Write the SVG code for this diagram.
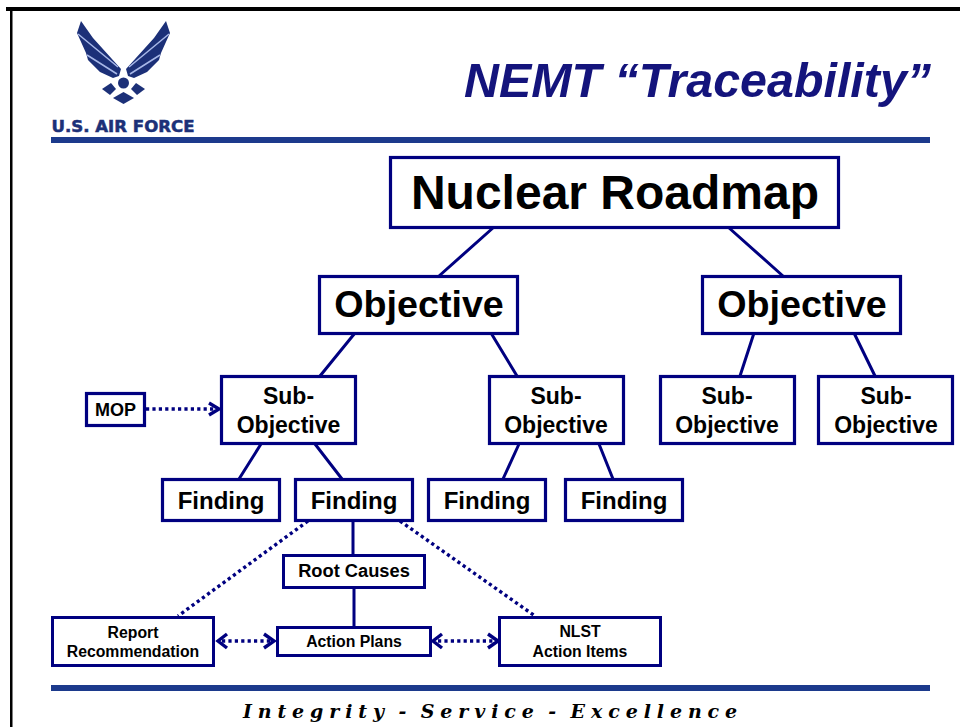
<svg xmlns="http://www.w3.org/2000/svg" width="960" height="727" viewBox="0 0 960 727">
<style>
text{font-family:"Liberation Sans",Arial,sans-serif;font-weight:bold;fill:#000;text-anchor:middle}
.box{fill:#fff;stroke:#000080;stroke-width:3.200}
.thin{fill:#fff;stroke:#000080;stroke-width:3}
.line{fill:none;stroke:#000080;stroke-width:3}
.dot{fill:none;stroke:#000080;stroke-width:3.400;stroke-dasharray:3.200 3.200}
.head{fill:none;stroke:#000080;stroke-width:3.400}
.rule{fill:#1c3a8c}
.logo{fill:#1c3078}
.feather{fill:none;stroke:#a8b8e8;stroke-width:1.500}
</style>
<rect width="960" height="727" fill="#fff"/>
<g id="frame"><rect x="6" y="7" width="954" height="4" fill="#000"/><rect x="10" y="8" width="2.500" height="719" fill="#000"/></g>
<g id="logo">
<path id="wing" class="logo" d="M81 21L93 38L121 69L119 76L113 78L100 72L88 60L86 53L77 33Z"/>
<path class="logo" d="M166 21L154 38L126 69L128 76L134 78L147 72L159 60L161 53L170 33Z"/>
<path class="feather" d="M78 34L118 67M87 55L117 74M169 34L129 67M160 55L130 74"/>
<circle class="logo" cx="123.500" cy="83" r="5.500"/>
<path class="logo" d="M102 89L111 83L116 89L110 95Z"/><path class="logo" d="M145 89L136 83L131 89L137 95Z"/>
<path class="logo" d="M123.500 92L134 98L123.500 104L113 98Z"/>
<text x="123" y="132" style="font-family:'DejaVu Sans',sans-serif;font-size:15px;font-weight:bold;fill:#1c3078;stroke:#1c3078;stroke-width:0.500" textLength="143" lengthAdjust="spacingAndGlyphs">U.S. AIR FORCE</text>
</g>
<text id="title" x="697.500" y="97" style="font-size:48.400px;font-style:italic;fill:#14147c">NEMT “Traceability”</text>
<rect class="rule" x="51" y="137" width="879" height="6"/>
<rect class="rule" x="51" y="685" width="879" height="6"/>
<g id="connectors">
<path class="line" d="M494 227L439 276M728 227L783 276M355 333L320 376M491 333L517 376M754 333L740 376M854 333L875 376M261 444L239 479M315 444L342 479M519 444L503 479M599 444L613 479M353 520V555M354 587V627"/>
<path class="dot" d="M146 409H216M308 521L178 616M400 521L535 616M222 641H270M438 641H494"/>
<path class="head" d="M209 403L219 409L209 415M227 634L218 641L227 648M264 634L274 641L264 648M442 634L433 641L442 648M488 634L498 641L488 648"/>
</g>
<g id="n-roadmap"><rect class="box" x="390.500" y="157.500" width="448" height="70"/><text x="615" y="209" font-size="48">Nuclear Roadmap</text></g>
<g id="n-obj1"><rect class="box" x="319.500" y="276.500" width="198" height="57"/><text x="419" y="317" font-size="37.700">Objective</text></g>
<g id="n-obj2"><rect class="box" x="702.500" y="276.500" width="198" height="57"/><text x="802" y="317" font-size="37.700">Objective</text></g>
<g id="n-mop"><rect class="box" x="86.500" y="393.500" width="58" height="32"/><text x="115.500" y="416" font-size="18">MOP</text></g>
<g id="n-sub1"><rect class="box" x="221.500" y="376.500" width="134" height="67"/><text x="288.500" y="404" font-size="23">Sub-</text><text x="288.500" y="433" font-size="23">Objective</text></g>
<g id="n-sub2"><rect class="box" x="489.500" y="376.500" width="134" height="67"/><text x="556" y="404" font-size="23">Sub-</text><text x="556" y="433" font-size="23">Objective</text></g>
<g id="n-sub3"><rect class="box" x="660.500" y="376.500" width="134" height="67"/><text x="727" y="404" font-size="23">Sub-</text><text x="727" y="433" font-size="23">Objective</text></g>
<g id="n-sub4"><rect class="box" x="818.500" y="376.500" width="134" height="67"/><text x="886" y="404" font-size="23">Sub-</text><text x="886" y="433" font-size="23">Objective</text></g>
<g id="n-find1"><rect class="box" x="162.500" y="479.500" width="117" height="41"/><text x="221" y="509" font-size="24">Finding</text></g>
<g id="n-find2"><rect class="box" x="295.500" y="479.500" width="117" height="41"/><text x="354" y="509" font-size="24">Finding</text></g>
<g id="n-find3"><rect class="box" x="428.500" y="479.500" width="117" height="41"/><text x="487" y="509" font-size="24">Finding</text></g>
<g id="n-find4"><rect class="box" x="565.500" y="479.500" width="117" height="41"/><text x="624" y="509" font-size="24">Finding</text></g>
<g id="n-root"><rect class="thin" x="283.500" y="555.500" width="141" height="32"/><text x="354" y="577" font-size="18.300">Root Causes</text></g>
<g id="n-report"><rect class="thin" x="52.500" y="617.500" width="161" height="48"/><text x="133" y="638" font-size="15.800">Report</text><text x="133" y="657" font-size="15.800">Recommendation</text></g>
<g id="n-action"><rect class="thin" x="277.500" y="627.500" width="153" height="28"/><text x="354" y="647" font-size="15.800">Action Plans</text></g>
<g id="n-nlst"><rect class="thin" x="499.500" y="617.500" width="161" height="48"/><text x="580" y="637" font-size="15.800">NLST</text><text x="580" y="657" font-size="15.800">Action Items</text></g>
<text id="motto" x="493" y="718" style="font-family:'DejaVu Serif',serif;font-size:19px;font-style:italic;letter-spacing:5.900px;word-spacing:-4px">Integrity - Service - Excellence</text>
</svg>
